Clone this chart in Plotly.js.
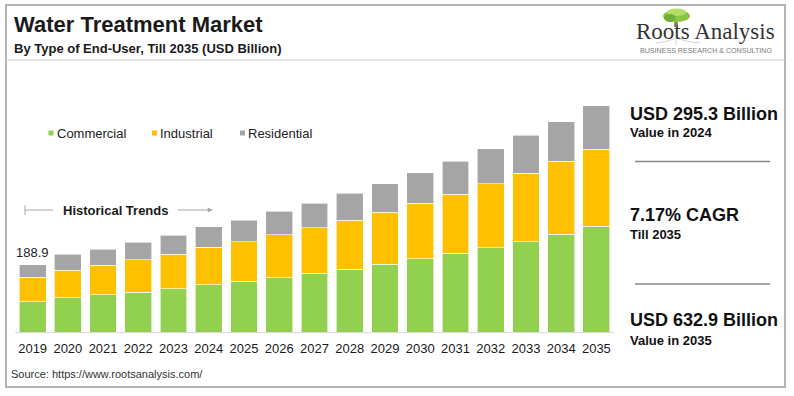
<!DOCTYPE html>
<html>
<head>
<meta charset="utf-8">
<script src="https://cdn.plot.ly/plotly-3.0.1.min.js"></script>
<style>
html,body{margin:0;padding:0;background:#fff;}
#chart{width:794px;height:396px;}
</style>
</head>
<body>
<div id="chart"></div>
<script>
// ---------- data ----------
const years = ['2019','2020','2021','2022','2023','2024','2025','2026','2027','2028','2029','2030','2031','2032','2033','2034','2035'];
const seriesNames = ['Commercial', 'Industrial', 'Residential'];
const commercial  = [84.3, 96.0, 104.4, 112.0, 121.2, 131.7, 142.8, 152.0, 164.4, 176.4, 190.4, 205.2, 220.4, 236.0, 252.8, 274.4, 296.0];
const industrial  = [69.2, 77.6, 83.2, 90.4, 97.2, 105.2, 110.0, 120.4, 127.7, 137.2, 144.8, 155.1, 165.2, 179.2, 191.5, 204.4, 216.4];
const residential = [35.4, 44.0, 44.8, 49.6, 53.2, 58.4, 60.8, 66.4, 68.3, 74.8, 80.1, 85.7, 93.2, 98.0, 106.4, 110.0, 120.5];
const seriesColors = ['#92d050', '#ffc000', '#a5a5a5'];
const titleText = 'Water Treatment Market';
const subtitleText = 'By Type of End-User, Till 2035 (USD Billion)';
const historicalText = 'Historical Trends';
const sourceText = 'Source: https://www.rootsanalysis.com/';
const statValues = ['USD 295.3 Billion', '7.17% CAGR', 'USD 632.9 Billion'];
const statLabels = ['Value in 2024', 'Till 2035', 'Value in 2035'];
const logoText = 'Roots Analysis';
const logoTagline = 'BUSINESS RESEARCH & CONSULTING';

// ---------- layout helpers ----------
const W = 794, H = 396;
const M = {l: 15, r: 180, t: 90, b: 64};
const PW = W - M.l - M.r, PH = H - M.t - M.b;
const px = x => (x - M.l) / PW;
const py = y => (H - M.b - y) / PH;
const FONT = '"Liberation Sans", Arial, sans-serif';

const totals = commercial.map((v, i) => v + industrial[i] + residential[i]);
const seriesValues = [commercial, industrial, residential];

const traces = seriesValues.map((vals, i) => ({
  type: 'bar',
  x: years,
  y: vals,
  name: seriesNames[i],
  marker: {color: seriesColors[i], line: {color: '#ffffff', width: 0.6}},
  hoverinfo: 'skip',
  showlegend: false
}));

function ann(text, x, y, size, opts) {
  opts = opts || {};
  return Object.assign({
    text: text, xref: 'paper', yref: 'paper', x: px(x), y: py(y),
    xanchor: 'left', yanchor: 'middle', showarrow: false,
    borderpad: 0, borderwidth: 0,
    font: {family: FONT, size: size, color: opts.color || '#111111'}
  }, opts.extra || {});
}
const b = t => '<b>' + t + '</b>';

const annotations = [
  ann(b(titleText), 14, 24, 22, {color: '#1a1a1a'}),
  ann(b(subtitleText), 14, 48.5, 13, {color: '#1a1a1a'}),
  ann(b(historicalText), 63, 210, 13, {color: '#1a1a1a'}),
  ann(sourceText, 11, 374, 11, {color: '#333333'}),
  // logo
  ann(logoText, 705, 31, 23, {color: '#333333', extra: {xanchor: 'center', font: {family: '"Liberation Serif", "Times New Roman", serif', size: 23, color: '#333333'}}}),
  ann(logoTagline, 705.5, 51.5, 7.1, {color: '#7a7a7a', extra: {xanchor: 'center'}}),
  // data label (first bar, by category index)
  {text: totals[0].toFixed(1), x: 0, y: totals[0], xref: 'x', yref: 'y',
   xanchor: 'center', yanchor: 'bottom', yshift: 3, showarrow: false,
   font: {family: FONT, size: 13, color: '#222222'}}
];
// stats
const statY = [[114, 132.5], [215, 234], [320, 340]];
statValues.forEach((v, i) => {
  annotations.push(ann(b(v), 630, statY[i][0], 18, {color: '#111111'}));
  annotations.push(ann(b(statLabels[i]), 630, statY[i][1], 13, {color: '#111111'}));
});
// legend text
const legX = [51, 154.5, 242.5];
seriesNames.forEach((n, i) => {
  annotations.push(ann(n, legX[i] + 5.5, 133, 13, {color: '#222222'}));
});

const shapes = [
  // outer frame
  {type: 'rect', xref: 'paper', yref: 'paper', x0: px(6), x1: px(785), y0: py(5), y1: py(387),
   line: {color: '#b4b4b4', width: 2}, fillcolor: 'rgba(0,0,0,0)', layer: 'below'},
  // header separator
  {type: 'line', xref: 'paper', yref: 'paper', x0: px(6), x1: px(785), y0: py(60), y1: py(60),
   line: {color: '#cfcfcf', width: 1.2}},
  // stat separators
  {type: 'line', xref: 'paper', yref: 'paper', x0: px(635), x1: px(770), y0: py(161.5), y1: py(161.5),
   line: {color: '#888888', width: 1.5}},
  {type: 'line', xref: 'paper', yref: 'paper', x0: px(635), x1: px(770), y0: py(284), y1: py(284),
   line: {color: '#888888', width: 1.5}},
  // historical trends bracket and arrow
  {type: 'line', xref: 'paper', yref: 'paper', x0: px(25), x1: px(25), y0: py(205), y1: py(215),
   line: {color: '#a6a6a6', width: 1}},
  {type: 'line', xref: 'paper', yref: 'paper', x0: px(25), x1: px(53), y0: py(210), y1: py(210),
   line: {color: '#a6a6a6', width: 1}},
  {type: 'line', xref: 'paper', yref: 'paper', x0: px(178), x1: px(211), y0: py(210), y1: py(210),
   line: {color: '#a6a6a6', width: 1}},
  {type: 'path', xref: 'paper', yref: 'paper',
   path: 'M ' + px(208) + ' ' + py(208) + ' L ' + px(212.5) + ' ' + py(210) + ' L ' + px(208) + ' ' + py(212) + ' Z',
   fillcolor: '#a6a6a6', line: {color: '#a6a6a6', width: 0.5}},
  // logo tree: trunk, canopy, roots
  {type: 'path', xref: 'paper', yref: 'paper',
   path: 'M ' + px(674.5) + ' ' + py(20) + ' L ' + px(677.5) + ' ' + py(20) + ' L ' + px(678) + ' ' + py(27) + ' L ' + px(674) + ' ' + py(27) + ' Z',
   fillcolor: '#8a7a55', line: {width: 0}},
  {type: 'circle', xref: 'paper', yref: 'paper', x0: px(663), x1: px(690), y0: py(10), y1: py(22),
   fillcolor: '#8cc63f', line: {width: 0}},
  {type: 'circle', xref: 'paper', yref: 'paper', x0: px(667), x1: px(686), y0: py(8.5), y1: py(16),
   fillcolor: '#b5dc6a', line: {width: 0}},
  {type: 'circle', xref: 'paper', yref: 'paper', x0: px(664), x1: px(676), y0: py(14), y1: py(22),
   fillcolor: '#6fb136', line: {width: 0}},
  {type: 'path', xref: 'paper', yref: 'paper',
   path: 'M ' + px(676) + ' ' + py(38) + ' Q ' + px(668) + ' ' + py(42) + ' ' + px(656) + ' ' + py(43) +
         ' M ' + px(676) + ' ' + py(38) + ' Q ' + px(686) + ' ' + py(42) + ' ' + px(700) + ' ' + py(43) +
         ' M ' + px(676) + ' ' + py(38) + ' L ' + px(676) + ' ' + py(45),
   line: {color: '#c8c8c8', width: 0.8}}
];
// legend squares
legX.forEach((x, i) => {
  shapes.push({type: 'rect', xref: 'paper', yref: 'paper', x0: px(x - 2.5), x1: px(x + 2.5), y0: py(130.5), y1: py(135.5),
    fillcolor: seriesColors[i], line: {width: 0}});
});

const layout = {
  width: W, height: H,
  margin: M,
  paper_bgcolor: '#ffffff', plot_bgcolor: '#ffffff',
  barmode: 'stack',
  bargap: 0.24,
  showlegend: false,
  font: {family: FONT},
  xaxis: {
    type: 'category', categoryorder: 'array', categoryarray: years,
    range: [-0.5, years.length - 0.5],
    showgrid: false, zeroline: false,
    showline: true, linecolor: '#d9d9d9', linewidth: 1,
    ticks: '', tickfont: {family: FONT, size: 13, color: '#1a1a1a'},
    ticklabelstandoff: 4, fixedrange: true
  },
  yaxis: {
    range: [0, PH * 2.8], visible: false, showgrid: false, zeroline: false, fixedrange: true
  },
  annotations: annotations,
  shapes: shapes
};

Plotly.newPlot('chart', traces, layout, {displayModeBar: false, staticPlot: true});
</script>
</body>
</html>
